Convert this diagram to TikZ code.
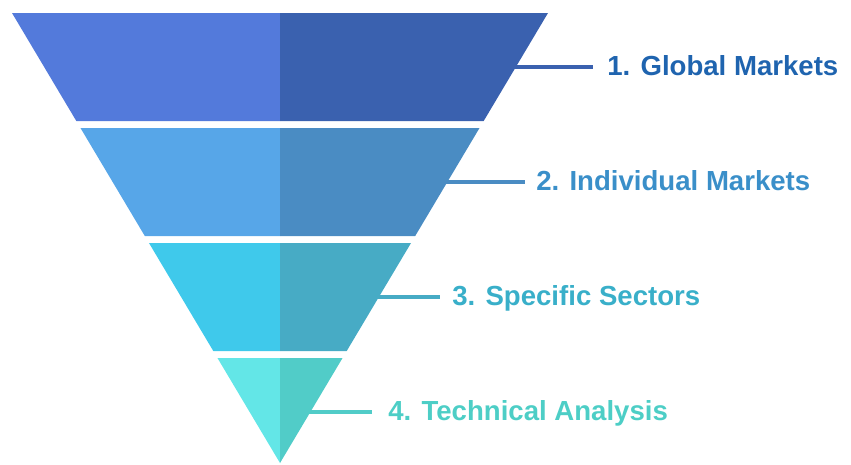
\documentclass[tikz,border=0pt]{standalone}
\usepackage{fontspec}
\setmainfont{Liberation Sans}
\usetikzlibrary{positioning}
\definecolor{oneL}{HTML}{537ADB}
\definecolor{oneR}{HTML}{3A61AF}
\definecolor{twoL}{HTML}{57A6E8}
\definecolor{twoR}{HTML}{4A8CC3}
\definecolor{threeL}{HTML}{3FC9EB}
\definecolor{threeR}{HTML}{47ABC5}
\definecolor{fourL}{HTML}{63E6E7}
\definecolor{fourR}{HTML}{51CCC8}
\definecolor{oneT}{HTML}{1F64AF}
\definecolor{twoT}{HTML}{3A8FC9}
\definecolor{threeT}{HTML}{39AFC9}
\definecolor{fourT}{HTML}{4DCEC6}
\tikzset{
  steptext/.style={anchor=base west, inner sep=0pt, font=\bfseries\fontsize{15.7}{18}\selectfont},
  leader/.style={line width=2.3pt}
}

\begin{document}
\begin{tikzpicture}[x=0.02cm, y=-0.02cm]
\useasboundingbox (0,0) rectangle (851,464);
% funnel bands, left and right halves
\foreach \yt/\yb/\cl/\cr in {13/121/oneL/oneR, 128/236/twoL/twoR, 243/351/threeL/threeR, 358/463/fourL/fourR}{
  \pgfmathsetmacro{\ht}{0.595556*(463-\yt)}
  \pgfmathsetmacro{\hb}{0.595556*(463-\yb)}
  \fill[\cl] (280-\ht,\yt) -- (280,\yt) -- (280,\yb) -- (280-\hb,\yb) -- cycle;
  \fill[\cr] (280,\yt) -- (280+\ht,\yt) -- (280+\hb,\yb) -- (280,\yb) -- cycle;
}

\coordinate (e1) at (514,67);
\coordinate (e2) at (445,182);
\coordinate (e3) at (377,297);
\coordinate (e4) at (308,412);

\node[steptext, text=oneT] (global) at (607,75) {1. Global Markets};
\node[steptext, text=twoT] (individual) at (536,190) {2. Individual Markets};
\node[steptext, text=threeT] (sectors) at (452,305) {3. Specific Sectors};
\node[steptext, text=fourT] (technical) at (388,420) {4. Technical Analysis};

\draw[leader, oneR] (e1) -- ([xshift=-0.28cm]e1 -| global.west);
\draw[leader, twoR] (e2) -- ([xshift=-0.22cm]e2 -| individual.west);
\draw[leader, threeR] (e3) -- ([xshift=-0.24cm]e3 -| sectors.west);
\draw[leader, fourR] (e4) -- ([xshift=-0.32cm]e4 -| technical.west);
\end{tikzpicture}
\end{document}
